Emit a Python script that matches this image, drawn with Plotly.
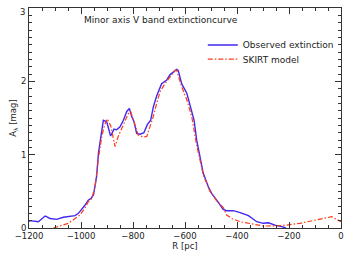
import plotly.graph_objects as go

obs_r = [-1200, -1196, -1164, -1138, -1119, -1094, -1068, -1042, -1023, -1010, -997, -985,
         -972, -960, -952, -946, -940, -933, -927, -920, -914, -901, -886, -873, -863, -850,
         -837, -824, -814, -805, -796, -786, -773, -758, -745, -732, -722, -709, -690, -670,
         -658, -645, -632, -626, -613, -593, -574, -565, -555, -542, -530, -510, -497, -478,
         -453, -440, -414, -388, -356, -324, -299, -279, -254, -228, -212]
obs_a = [0.09, 0.10, 0.086, 0.164, 0.13, 0.118, 0.146, 0.154, 0.168, 0.20, 0.255, 0.31,
         0.38, 0.41, 0.45, 0.56, 0.70, 1.02, 1.20, 1.33, 1.47, 1.45, 1.255, 1.35, 1.34, 1.38,
         1.47, 1.59, 1.63, 1.52, 1.45, 1.29, 1.28, 1.30, 1.41, 1.47, 1.65, 1.80, 1.97, 2.02,
         2.09, 2.13, 2.165, 2.15, 1.97, 1.84, 1.61, 1.47, 1.20, 0.97, 0.75, 0.56, 0.47, 0.38,
         0.255, 0.236, 0.236, 0.209, 0.168, 0.086, 0.064, 0.072, 0.04, 0.018, 0.0]

mod_r = [-1106, -1081, -1049, -1030, -1004, -985, -972, -959, -946, -933, -920, -910, -899,
         -886, -869, -857, -837, -818, -809, -796, -780, -760, -747, -735, -722, -709, -696,
         -677, -658, -638, -632, -613, -593, -574, -562, -555, -530, -504, -478, -453, -440,
         -420, -388, -350, -299, -247, -209, -158, -93, -36, -23, 0]
mod_a = [0.0, 0.027, 0.064, 0.11, 0.177, 0.27, 0.36, 0.40, 0.56, 0.95, 1.25, 1.40, 1.49,
         1.40, 1.11, 1.25, 1.40, 1.56, 1.59, 1.43, 1.27, 1.24, 1.25, 1.38, 1.52, 1.70, 1.86,
         1.97, 2.06, 2.15, 2.15, 1.93, 1.75, 1.52, 1.27, 1.13, 0.73, 0.50, 0.37, 0.28, 0.177,
         0.13, 0.086, 0.064, 0.027, 0.03, 0.04, 0.064, 0.11, 0.154, 0.13, 0.086]

x_ticks = [-1200, -1000, -800, -600, -400, -200, 0]
x_labels = ["\u22121200", "\u22121000", "\u2212800", "\u2212600", "\u2212400", "\u2212200", "0"]
y_ticks = [0, 1, 2, 3]
y_labels = ["0", "1", "2", "3"]

FONT = "DejaVu Sans"
AX = "#333333"
TXT = "#222222"

fig = go.Figure()
fig.add_trace(go.Scatter(x=obs_r, y=obs_a, mode="lines", name="Observed extinction",
                         line=dict(color="#4127f2", width=1.4), legend="legend"))
fig.add_trace(go.Scatter(x=mod_r, y=mod_a, mode="lines", name="SKIRT model",
                         line=dict(color="#ff3a1a", width=1.2, dash="5px,2px,1.5px,2px"),
                         legend="legend2"))

axis_common = dict(showline=True, linecolor=AX, linewidth=1, mirror="ticks",
                   ticks="inside", ticklen=6, tickcolor=AX, tickwidth=1,
                   showgrid=False, zeroline=False, automargin=False,
                   tickfont=dict(family=FONT, size=8.5, color=TXT))

fig.update_xaxes(range=[-1200, 0], tickvals=x_ticks, ticktext=x_labels,
                 minor=dict(ticks="inside", ticklen=3, tickcolor=AX, dtick=50, showgrid=False),
                 title=dict(text="R [pc]", font=dict(family=FONT, size=8.5, color=TXT),
                            standoff=0),
                 **axis_common)
# the top label ("3") is drawn as an annotation, just below its tick as in the reference
fig.update_yaxes(range=[0, 3.002], tickvals=y_ticks, ticktext=y_labels[:-1] + [""],
                 minor=dict(ticks="inside", ticklen=3, tickcolor=AX, dtick=0.1, showgrid=False),
                 title=dict(text="A<sub>\u03bb</sub> [mag]",
                            font=dict(family=FONT, size=8.5, color=TXT), standoff=2),
                 **axis_common)
fig.add_annotation(text=y_labels[-1], xref="paper", yref="y", x=0, y=y_ticks[-1],
                   xanchor="right", yanchor="middle", xshift=-2, yshift=-4, showarrow=False,
                   font=dict(family=FONT, size=8.5, color=TXT))

fig.add_annotation(text="Minor axis V band extinctioncurve", xref="paper", yref="paper",
                   x=0.17, y=0.945, xanchor="left", yanchor="middle", showarrow=False,
                   font=dict(family=FONT, size=9, color=TXT))

leg_common = dict(x=0.557, xanchor="left", yanchor="middle",
                  bgcolor="rgba(0,0,0,0)", borderwidth=0,
                  font=dict(family=FONT, size=9, color=TXT), itemwidth=30)

fig.update_layout(
    width=349, height=257,
    margin=dict(l=29, r=8, t=8, b=29, autoexpand=False),
    paper_bgcolor="white", plot_bgcolor="white",
    showlegend=True,
    legend=dict(y=0.832, **leg_common),
    legend2=dict(y=0.768, **leg_common),
)

fig.write_html("out.html", config={"displayModeBar": False},
               post_script=("document.body.style.margin='0';"
                            "document.body.style.padding='0';"))
